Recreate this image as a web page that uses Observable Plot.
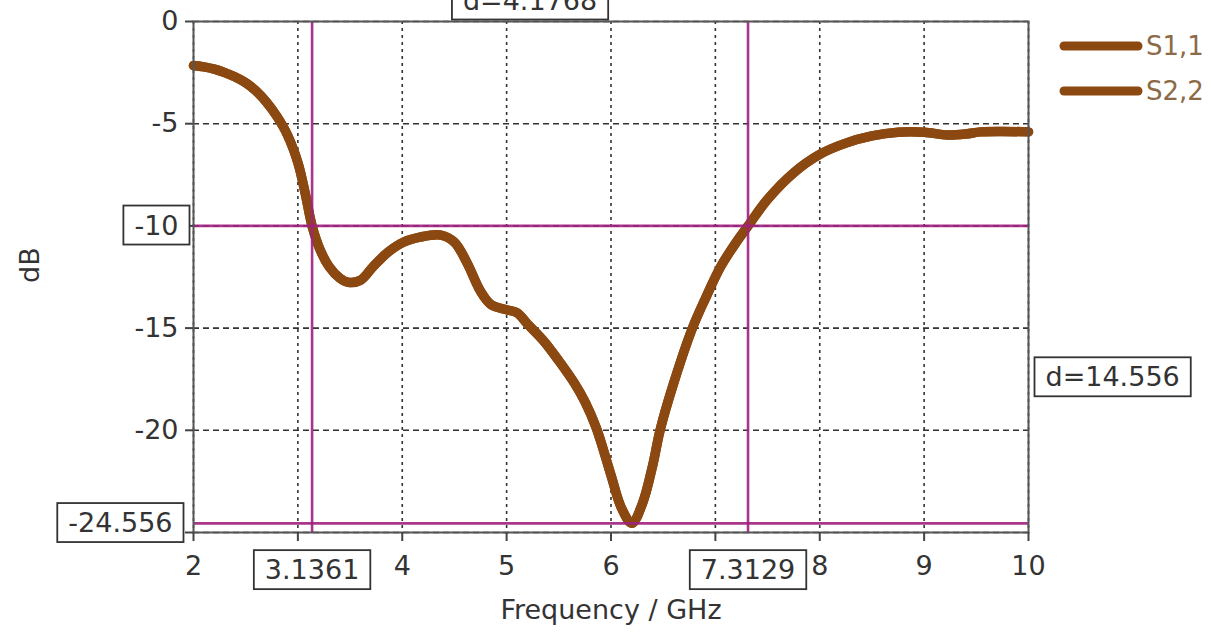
<!DOCTYPE html>
<html>
<head>
<meta charset="utf-8">
<script src="https://cdn.jsdelivr.net/npm/d3@7"></script>
<script src="https://cdn.jsdelivr.net/npm/@observablehq/plot@0.6"></script>
<style>
  html, body { margin: 0; padding: 0; background: #fff; }
  #chart { position: relative; width: 1220px; height: 634px; overflow: hidden; }
</style>
</head>
<body>
<div id="chart"></div>
<script>
// ---- data ----
const freq = [2.0, 2.1, 2.2, 2.3, 2.4, 2.5, 2.6, 2.7, 2.8, 2.9, 3.0, 3.07, 3.136, 3.22, 3.3, 3.4, 3.48, 3.6, 3.72, 3.86, 4.01, 4.17, 4.37, 4.5, 4.62, 4.75, 4.85, 5.0, 5.1, 5.2, 5.35, 5.5, 5.65, 5.75, 5.86, 6.0, 6.1, 6.2, 6.3, 6.4, 6.47, 6.6, 6.78, 6.9, 7.05, 7.2, 7.313, 7.5, 7.75, 8.0, 8.25, 8.5, 8.75, 9.0, 9.22, 9.4, 9.54, 9.75, 10.0];
const s11 = [-2.15, -2.22, -2.33, -2.5, -2.72, -3.0, -3.4, -3.95, -4.65, -5.55, -6.9, -8.4, -10.0, -11.25, -12.0, -12.55, -12.76, -12.66, -12.0, -11.3, -10.8, -10.55, -10.45, -10.8, -11.8, -13.2, -13.85, -14.1, -14.25, -14.8, -15.6, -16.6, -17.7, -18.6, -19.9, -22.2, -23.8, -24.55, -23.6, -21.7, -20.0, -17.7, -15.0, -13.6, -12.0, -10.8, -10.0, -8.7, -7.4, -6.5, -5.95, -5.6, -5.42, -5.42, -5.55, -5.5, -5.4, -5.38, -5.4];
const s22 = s11.slice();
const seriesNames = ["S1,1", "S2,2"];
const xTicks = [2, 3, 4, 5, 6, 7, 8, 9, 10];
const yTicks = [0, -5, -10, -15, -20, -25];
const xTickHidden = [3, 7];
const yTickHidden = [-25];
const markerX = [3.1361, 7.3129];
const markerY = [-10, -24.556];
const markerXLabels = ["3.1361", "7.3129"];
const markerYLabels = ["-24.556"];
const deltaXLabel = "d=4.1768";
const deltaYLabel = "d=14.556";
const xLabel = "Frequency / GHz";
const yLabel = "dB";

const curveColor = "#8b4810";
const markerColor = "#a0207f";
const font = "DejaVu Sans";

const rows = [];
freq.forEach((f, i) => rows.push({f, v: s22[i], s: seriesNames[1]}));
freq.forEach((f, i) => rows.push({f, v: s11[i], s: seriesNames[0]}));

const plot = Plot.plot({
  width: 1220,
  height: 634,
  marginLeft: 193,
  marginRight: 192,
  marginTop: 21,
  marginBottom: 102,
  x: {domain: [2, 10]},
  y: {domain: [-25, 0]},
  style: {fontFamily: font, fontSize: "27px", color: "#333", background: "white", overflow: "visible"},
  marks: [
    Plot.gridX(xTicks, {stroke: "#333", strokeOpacity: 1, strokeWidth: 1.6, strokeDasharray: "3,4"}),
    Plot.gridY(yTicks, {stroke: "#333", strokeOpacity: 1, strokeWidth: 1.6, strokeDasharray: "6,4"}),
    Plot.line(rows, {x: "f", y: "v", z: "s", stroke: curveColor, strokeWidth: 9.5, curve: "catmull-rom", strokeLinecap: "round", strokeLinejoin: "round"}),
    Plot.ruleX(markerX, {stroke: markerColor, strokeWidth: 2.6, strokeOpacity: 0.9}),
    Plot.ruleY(markerY, {stroke: markerColor, strokeWidth: 2.6, strokeOpacity: 0.9}),
    Plot.frame({stroke: "#555", strokeWidth: 2}),
    Plot.axisX(xTicks, {tickSize: 9, tickPadding: 14, stroke: "#444", strokeWidth: 2, fontSize: 27, fill: "#333",
      tickFormat: d => xTickHidden.includes(d) ? "" : String(d), label: null}),
    Plot.axisY(yTicks, {tickSize: 8, tickPadding: 7, stroke: "#444", strokeWidth: 2, fontSize: 27, fill: "#333",
      tickFormat: d => yTickHidden.includes(d) ? "" : String(d), label: null}),
    Plot.text(markerX, {x: d => d, text: (d, i) => markerXLabels[i], frameAnchor: "bottom", dy: 38, fontSize: 27, fill: "#333", lineAnchor: "middle"}),
    Plot.text([markerY[1]], {y: d => d, text: markerYLabels, frameAnchor: "left", dx: -21, textAnchor: "end", fontSize: 27, fill: "#333", lineAnchor: "middle"}),
    Plot.text([(markerX[0] + markerX[1]) / 2], {x: d => d, text: [deltaXLabel], frameAnchor: "top", dy: -12, lineAnchor: "bottom", fontSize: 27, fill: "#333"}),
    Plot.text([(markerY[0] + markerY[1]) / 2], {y: d => d, text: [deltaYLabel], frameAnchor: "right", dx: 17, dy: 3, textAnchor: "start", lineAnchor: "middle", fontSize: 27, fill: "#333"}),
    Plot.text([xLabel], {frameAnchor: "bottom", dy: 78, fontSize: 27, fill: "#333", lineAnchor: "middle"}),
    Plot.text([yLabel], {frameAnchor: "left", dx: -163, dy: 6, rotate: -90, fontSize: 27, fill: "#333", lineAnchor: "middle"})
  ]
});

document.getElementById("chart").appendChild(plot);

// boxes around marker labels
const boxed = new Set([...markerXLabels, ...markerYLabels, deltaXLabel, deltaYLabel, "-10"]);
plot.querySelectorAll("text").forEach(t => {
  if (!boxed.has(t.textContent)) return;
  const b = t.getBBox();
  const r = document.createElementNS("http://www.w3.org/2000/svg", "rect");
  const px = 11, py = 4;
  r.setAttribute("x", b.x - px);
  r.setAttribute("y", b.y - py);
  r.setAttribute("width", b.width + 2 * px);
  r.setAttribute("height", b.height + 2 * py);
  r.setAttribute("fill", "white");
  r.setAttribute("stroke", "#333");
  r.setAttribute("stroke-width", "1.8");
  if (t.getAttribute("transform")) r.setAttribute("transform", t.getAttribute("transform"));
  t.parentNode.insertBefore(r, t);
});

// legend in right margin
const svg = d3.select(plot);
const lg = svg.append("g").attr("font-family", font).attr("text-anchor", "start");
seriesNames.forEach((name, i) => {
  const y = 46 + i * 45;
  lg.append("line").attr("x1", 1064).attr("x2", 1138).attr("y1", y).attr("y2", y)
    .attr("stroke", curveColor).attr("stroke-width", 9).attr("stroke-linecap", "round");
  lg.append("text").attr("x", 1146).attr("y", y).attr("dy", "0.35em")
    .attr("text-anchor", "start")
    .attr("font-size", 26).attr("fill", "#8c6a48").text(name);
});
</script>
</body>
</html>
